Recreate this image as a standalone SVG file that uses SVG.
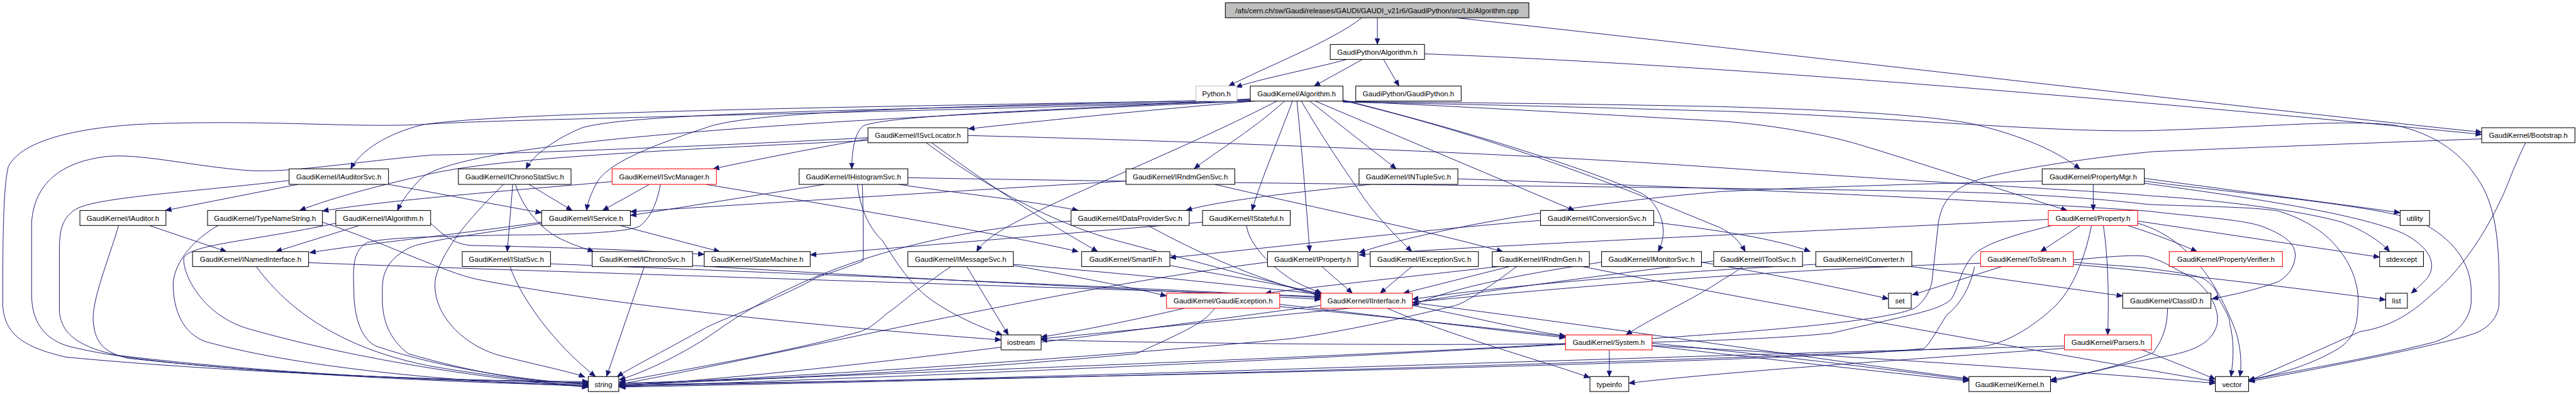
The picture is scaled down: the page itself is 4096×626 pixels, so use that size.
<svg xmlns="http://www.w3.org/2000/svg" width="4096" height="626" viewBox="0 0 4096 626">
<defs>
<style>
.e{fill:none;stroke:#191970;stroke-width:1.1;marker-end:url(#ah)}
.n rect{fill:#fff;stroke:#000;stroke-width:1.2}
.n.r rect{stroke:#ff0000}
.n.g rect{stroke:#bfbfbf}
.n.f rect{fill:#bfbfbf}
.n text{font-family:"Liberation Sans",Arial,Helvetica,sans-serif;font-size:13px;text-anchor:middle;fill:#000}
</style>
<marker id="ah" markerWidth="12" markerHeight="10" refX="11" refY="5" orient="auto" markerUnits="userSpaceOnUse"><path d="M0,0 L12,5 L0,10 z" fill="#191970"/></marker>
</defs>
<rect width="4096" height="626" fill="#fff"/>
<g transform="scale(0.8824)">
<g id="edges">
<path class="e" d="M2454,32 C2400,75 2270,125 2214,155"/>
<path class="e" d="M2482,32 L2482,80"/>
<path class="e" d="M2623,32 C3200,95 4100,200 4472,238"/>
<path class="e" d="M2427,107 C2360,125 2270,142 2227,157"/>
<path class="e" d="M2455,107 L2368,155"/>
<path class="e" d="M2493,107 L2521,155"/>
<path class="e" d="M2567,97 C3200,120 4100,205 4472,242"/>
<path class="e" d="M2262,182 C2050,200 1900,215 1745,232"/>
<path class="e" d="M2253,180 C1700,190 900,200 760,225 C700,240 650,270 632,304"/>
<path class="e" d="M2253,182 C1500,205 900,215 780,223 C650,232 500,215 269,223 C150,228 40,250 15,300 C5,340 5,450 5,550 C8,600 40,625 119,643 C400,670 800,685 1060,689"/>
<path class="e" d="M2253,182 C1500,215 850,250 760,320 C740,340 725,360 716,379"/>
<path class="e" d="M2253,181 C1700,196 1150,200 1049,230 C1000,250 960,280 948,304"/>
<path class="e" d="M2253,179 C1700,192 1350,200 1272,230 C1150,270 1090,300 1075,330 C1064,350 1059,365 1057,379"/>
<path class="e" d="M2253,178 C2000,195 1600,205 1555,227 C1540,240 1535,270 1535,304"/>
<path class="e" d="M2301,182 C2150,260 1950,340 1850,390 C1800,415 1770,435 1760,453"/>
<path class="e" d="M2315,182 C2250,240 2180,280 2152,304"/>
<path class="e" d="M2329,182 C2300,260 2270,330 2256,379"/>
<path class="e" d="M2337,182 C2345,260 2355,380 2360,453"/>
<path class="e" d="M2345,182 C2390,260 2440,330 2460,360 C2490,400 2520,430 2544,453"/>
<path class="e" d="M2360,182 L2516,304"/>
<path class="e" d="M2370,182 L2837,379"/>
<path class="e" d="M2420,180 C2700,250 2900,320 2962,350 C2990,370 2998,400 2997,420 C2996,435 2992,445 2988,453"/>
<path class="e" d="M2420,181 C2750,260 3000,370 3100,410 C3120,420 3135,435 3145,453"/>
<path class="e" d="M2420,183 C2800,186 3000,190 3100,192 C3300,198 3450,205 3550,222 C3650,245 3710,275 3748,304"/>
<path class="e" d="M2420,184 C2800,190 3000,198 3100,200 C3400,210 3700,240 3880,235 C4100,228 4215,215 4313,225 C4390,240 4440,280 4470,330 C4500,380 4505,450 4503,550 C4500,575 4480,595 4451,603 C4400,620 4200,660 4052,687"/>
<path class="e" d="M2420,182 C2700,195 2950,210 3100,218 C3200,225 3300,245 3349,260 C3450,290 3600,340 3725,379"/>
<path class="e" d="M4472,250 C4200,260 3950,270 3880,273 C3750,285 3600,310 3560,325 C3520,340 3500,360 3493,400 L3481,510 C3475,530 3465,545 3450,555 C3300,620 1800,660 1116,694"/>
<path class="e" d="M4551,257 C4530,300 4520,330 4511,350 C4470,440 4420,500 4382,530 C4340,570 4300,590 4253,597 C4180,630 4100,665 4052,686"/>
<path class="e" d="M1564,248 C1300,262 900,278 780,279 C650,290 520,312 448,307 C350,300 250,275 190,282 C110,292 62,330 57,400 L57,530 C57,580 80,610 122,623 C300,670 800,686 1060,687"/>
<path class="e" d="M1564,250 C1450,270 1350,290 1285,304"/>
<path class="e" d="M1564,253 C1200,270 900,285 780,312 C700,330 600,355 540,379"/>
<path class="e" d="M1679,257 C1750,310 1850,380 1978,453"/>
<path class="e" d="M1669,257 C1780,340 1900,400 2000,430 C2150,470 2300,510 2380,531"/>
<path class="e" d="M1744,244 C2200,255 2800,280 3100,302 C3500,330 3800,345 3880,353 C4000,360 4150,380 4220,400 C4260,415 4290,435 4306,453"/>
<path class="e" d="M3772,332 L3772,379"/>
<path class="e" d="M3864,321 C4000,340 4200,365 4325,383"/>
<path class="e" d="M3864,326 C4000,345 4300,370 4362,400 C4420,430 4450,470 4453,520 L4453,545 C4450,580 4420,610 4370,620 C4250,650 4120,670 4052,685"/>
<path class="e" d="M3864,330 C4050,355 4250,385 4330,420 C4380,445 4395,480 4370,505 C4360,515 4352,522 4345,528"/>
<path class="e" d="M3680,326 C3400,332 3200,340 3100,345 C2800,370 2550,420 2449,455"/>
<path class="e" d="M3750,405 L3677,453"/>
<path class="e" d="M3790,405 C3800,470 3800,550 3798,603"/>
<path class="e" d="M3830,405 C3880,420 3930,440 3959,453"/>
<path class="e" d="M3852,398 C4000,420 4200,450 4288,463"/>
<path class="e" d="M3691,395 C3300,415 2700,440 2449,459"/>
<path class="e" d="M3769,405 C3760,450 3740,520 3697,557 C3660,590 3620,615 3578,623 C3400,640 2000,680 1116,697"/>
<path class="e" d="M3702,405 C3620,425 3575,440 3555,460 C3530,490 3530,520 3515,540 C3490,560 3450,565 3300,600 C3000,630 2200,620 1876,612"/>
<path class="e" d="M3852,402 C3950,430 4000,520 4030,600 C4038,630 4040,655 4036,678"/>
<path class="e" d="M1636,320 C2300,332 3100,337 3500,345 C3700,350 3800,360 3870,368 C3960,372 4060,372 4106,380 C4170,400 4200,430 4215,450 C4240,480 4252,520 4249,550 C4248,590 4240,610 4215,627 C4160,660 4100,675 4052,684"/>
<path class="e" d="M2627,322 C3000,335 3500,355 3870,380 C3950,390 4050,395 4082,410 C4120,425 4136,440 4136,460 C4135,480 4125,495 4106,507 C4070,520 4030,530 3986,538"/>
<path class="e" d="M3607,480 L3446,531"/>
<path class="e" d="M3736,476 C3900,490 4150,520 4299,540"/>
<path class="e" d="M3736,472 C3800,478 3850,480 3870,483 C3920,490 3960,495 3973,503 C3990,515 3995,525 3998,537 C4010,560 4018,570 4018,583 C4025,610 4026,640 4020,678"/>
<path class="e" d="M3736,468 C3800,462 3850,458 3870,462 C3900,470 3920,485 3950,500 C3985,525 4000,560 3995,585 C3985,620 3950,635 3880,645 C3800,662 3750,675 3695,687"/>
<path class="e" d="M3558,480 C3550,520 3530,550 3508,567 C3490,595 3480,615 3468,627 C3300,650 2000,680 1116,693"/>
<path class="e" d="M3569,474 C3000,490 2400,560 1876,610"/>
<path class="e" d="M3857,629 C3900,645 3950,665 3992,683"/>
<path class="e" d="M3720,623 C3000,640 2000,680 1116,695"/>
<path class="e" d="M3720,627 C3400,650 3100,670 2935,690"/>
<path class="e" d="M3906,555 C3905,600 3890,620 3880,635 C3820,660 3750,675 3695,684"/>
<path class="e" d="M3445,480 L3825,533"/>
<path class="e" d="M3272,476 C3000,490 2700,515 2545,539"/>
<path class="e" d="M2980,400 C3100,415 3200,430 3262,453"/>
<path class="e" d="M2776,397 C2600,410 2300,445 2108,464"/>
<path class="e" d="M3088,470 C2900,495 2700,520 2545,545"/>
<path class="e" d="M3140,480 C3120,495 3110,500 3105,503 C3050,540 2980,570 2930,603"/>
<path class="e" d="M2886,472 C2700,500 2600,525 2545,550"/>
<path class="e" d="M3066,472 C3200,495 3300,515 3403,538"/>
<path class="e" d="M2720,480 L2529,528"/>
<path class="e" d="M2700,480 C2550,497 2400,513 2280,528"/>
<path class="e" d="M2852,480 C3100,530 3600,620 3992,687"/>
<path class="e" d="M2733,480 C2680,520 2640,545 2623,550 C2500,580 2400,600 2325,610 C1900,650 1400,680 1116,692"/>
<path class="e" d="M2544,480 L2487,528"/>
<path class="e" d="M2246,405 C2250,440 2290,480 2330,505 C2350,515 2365,522 2382,528"/>
<path class="e" d="M2167,400 L1460,459"/>
<path class="e" d="M2067,405 C2130,440 2250,500 2380,533"/>
<path class="e" d="M1930,398 C1600,420 1400,520 1300,590 C1230,640 1160,670 1116,684"/>
<path class="e" d="M1620,332 C1700,345 1850,360 1943,379"/>
<path class="e" d="M2470,332 C2350,345 2200,360 2137,379"/>
<path class="e" d="M1486,332 L1136,388"/>
<path class="e" d="M1554,332 C1556,400 1556,450 1555,470 C1530,480 1500,490 1471,500 C1400,540 1300,575 1272,590 C1200,630 1150,655 1112,678"/>
<path class="e" d="M1545,332 C1550,380 1570,415 1590,433 C1620,480 1640,510 1674,537 C1720,570 1770,590 1806,603"/>
<path class="e" d="M2189,332 C2350,370 2550,410 2708,453"/>
<path class="e" d="M2029,326 C1700,345 1400,365 1136,381"/>
<path class="e" d="M1742,480 L1817,603"/>
<path class="e" d="M1714,480 C1690,495 1680,505 1674,507 C1640,530 1620,550 1600,563 C1580,580 1570,590 1550,597 C1400,640 1200,670 1116,688"/>
<path class="e" d="M1826,476 C2000,490 2200,510 2380,530"/>
<path class="e" d="M1826,478 C1950,500 2050,520 2102,533"/>
<path class="e" d="M2108,478 C2200,495 2300,510 2380,529"/>
<path class="e" d="M919,480 C940,540 1000,620 1073,678"/>
<path class="e" d="M992,475 C1500,495 2000,515 2380,536"/>
<path class="e" d="M1161,480 L1093,678"/>
<path class="e" d="M1248,478 C1600,500 2000,518 2380,539"/>
<path class="e" d="M953,332 L1031,379"/>
<path class="e" d="M924,332 L914,453"/>
<path class="e" d="M929,332 C940,370 970,410 1010,430 C1035,442 1055,448 1070,453"/>
<path class="e" d="M907,332 C860,380 800,440 785,500 C775,560 830,620 900,640 C980,660 1030,670 1054,679"/>
<path class="e" d="M1170,332 L1086,379"/>
<path class="e" d="M1103,327 C900,345 700,360 581,380"/>
<path class="e" d="M1272,332 C1500,370 1800,420 1943,453"/>
<path class="e" d="M1190,332 C1185,360 1175,390 1153,407 C1130,420 1000,423 924,423 C850,425 700,425 661,437 C640,450 637,470 637,500 L638,537 C640,570 650,610 677,623 C800,665 950,685 1060,692"/>
<path class="e" d="M976,400 C800,425 650,440 558,455"/>
<path class="e" d="M1113,405 L1297,453"/>
<path class="e" d="M976,402 C880,420 780,430 740,445 C700,465 689,490 689,520 L689,543 C690,575 700,610 736,637 C850,670 960,690 1060,690"/>
<path class="e" d="M651,405 L497,453"/>
<path class="e" d="M605,402 C450,435 340,440 331,465 C330,500 370,570 448,592 C650,650 900,685 1060,697"/>
<path class="e" d="M776,402 C800,425 820,440 850,442 C1000,445 1150,450 1269,458"/>
<path class="e" d="M537,332 L298,379"/>
<path class="e" d="M700,332 C800,350 900,370 976,383"/>
<path class="e" d="M521,325 C350,345 180,355 140,375 C110,390 107,420 107,450 L107,560 C110,600 140,625 214,640 C500,675 850,688 1060,692"/>
<path class="e" d="M266,405 L408,453"/>
<path class="e" d="M214,405 C195,470 165,540 168,580 C172,620 190,635 230,645 C500,675 850,690 1060,694"/>
<path class="e" d="M395,405 C350,430 315,470 312,510 C312,560 330,600 370,615 C550,665 850,690 1060,695"/>
<path class="e" d="M581,400 C700,440 800,490 860,503 C1100,550 1500,590 1804,612"/>
<path class="e" d="M556,473 C1000,490 2000,520 2380,534"/>
<path class="e" d="M462,480 C520,560 620,630 780,660 C900,680 1000,690 1060,697"/>
<path class="e" d="M2306,548 C2500,570 2700,595 2821,608"/>
<path class="e" d="M2134,555 C2050,575 1950,595 1876,607"/>
<path class="e" d="M2189,555 C2170,580 2150,590 2047,637 C1800,660 1500,680 1116,690"/>
<path class="e" d="M2306,552 C2800,600 3200,650 3548,686"/>
<path class="e" d="M2545,550 C2650,570 2750,595 2821,605"/>
<path class="e" d="M2500,555 C2600,600 2780,650 2865,680"/>
<path class="e" d="M2545,545 C2900,590 3300,650 3548,682"/>
<path class="e" d="M2380,550 C2000,600 1500,670 1116,695"/>
<path class="e" d="M2900,630 L2900,678"/>
<path class="e" d="M2977,618 C3200,640 3400,665 3548,684"/>
<path class="e" d="M2821,620 C2300,650 1600,680 1116,696"/>
<path class="e" d="M2977,622 C3300,640 3700,665 3992,690"/>
<path class="e" d="M2382,480 L2437,528"/>
<path class="e" d="M2284,472 C1900,520 1400,640 1116,692"/>
</g>
<g id="n_file" class="n f"><rect x="2208" y="5" width="547" height="27"/><text x="2481.5" y="23.5">/afs/cern.ch/sw/Gaudi/releases/GAUDI/GAUDI_v21r6/GaudiPython/src/Lib/Algorithm.cpp</text></g>
<g id="n_gpa" class="n"><rect x="2397" y="80" width="170" height="27"/><text x="2482" y="98.5">GaudiPython/Algorithm.h</text></g>
<g id="n_python" class="n g"><rect x="2155" y="155" width="74" height="27"/><text x="2192" y="173.5">Python.h</text></g>
<g id="n_alg" class="n"><rect x="2253" y="155" width="167" height="27"/><text x="2336.5" y="173.5">GaudiKernel/Algorithm.h</text></g>
<g id="n_gpy" class="n"><rect x="2443" y="155" width="190" height="27"/><text x="2538" y="173.5">GaudiPython/GaudiPython.h</text></g>
<g id="n_isvcloc" class="n"><rect x="1564" y="230" width="180" height="27"/><text x="1654" y="248.5">GaudiKernel/ISvcLocator.h</text></g>
<g id="n_boot" class="n"><rect x="4472" y="230" width="168" height="27"/><text x="4556" y="248.5">GaudiKernel/Bootstrap.h</text></g>
<g id="n_iaudsvc" class="n"><rect x="521" y="304" width="179" height="28"/><text x="610.5" y="322.5">GaudiKernel/IAuditorSvc.h</text></g>
<g id="n_icss" class="n"><rect x="826" y="304" width="203" height="28"/><text x="927.5" y="322.5">GaudiKernel/IChronoStatSvc.h</text></g>
<g id="n_isvcmgr" class="n r"><rect x="1103" y="304" width="188" height="28"/><text x="1197" y="322.5">GaudiKernel/ISvcManager.h</text></g>
<g id="n_ihist" class="n"><rect x="1440" y="304" width="196" height="28"/><text x="1538" y="322.5">GaudiKernel/IHistogramSvc.h</text></g>
<g id="n_irgs" class="n"><rect x="2029" y="304" width="196" height="28"/><text x="2127" y="322.5">GaudiKernel/IRndmGenSvc.h</text></g>
<g id="n_ints" class="n"><rect x="2449" y="304" width="178" height="28"/><text x="2538" y="322.5">GaudiKernel/INTupleSvc.h</text></g>
<g id="n_pmgr" class="n"><rect x="3680" y="304" width="184" height="28"/><text x="3772" y="322.5">GaudiKernel/PropertyMgr.h</text></g>
<g id="n_iaud" class="n"><rect x="144" y="379" width="155" height="27"/><text x="221.5" y="397.5">GaudiKernel/IAuditor.h</text></g>
<g id="n_tns" class="n"><rect x="374" y="379" width="207" height="27"/><text x="477.5" y="397.5">GaudiKernel/TypeNameString.h</text></g>
<g id="n_ialg" class="n"><rect x="605" y="379" width="171" height="27"/><text x="690.5" y="397.5">GaudiKernel/IAlgorithm.h</text></g>
<g id="n_isvc" class="n"><rect x="976" y="379" width="160" height="27"/><text x="1056" y="397.5">GaudiKernel/IService.h</text></g>
<g id="n_idps" class="n"><rect x="1930" y="379" width="213" height="27"/><text x="2036.5" y="397.5">GaudiKernel/IDataProviderSvc.h</text></g>
<g id="n_istf" class="n"><rect x="2167" y="379" width="158" height="27"/><text x="2246" y="397.5">GaudiKernel/IStateful.h</text></g>
<g id="n_icnvs" class="n"><rect x="2776" y="379" width="204" height="27"/><text x="2878" y="397.5">GaudiKernel/IConversionSvc.h</text></g>
<g id="n_prop" class="n r"><rect x="3691" y="379" width="161" height="27"/><text x="3771.5" y="397.5">GaudiKernel/Property.h</text></g>
<g id="n_util" class="n"><rect x="4325" y="379" width="53" height="27"/><text x="4351.5" y="397.5">utility</text></g>
<g id="n_ini" class="n"><rect x="347" y="453" width="209" height="27"/><text x="451.5" y="471.5">GaudiKernel/INamedInterface.h</text></g>
<g id="n_istat" class="n"><rect x="833" y="453" width="159" height="27"/><text x="912.5" y="471.5">GaudiKernel/IStatSvc.h</text></g>
<g id="n_ichr" class="n"><rect x="1067" y="453" width="181" height="27"/><text x="1157.5" y="471.5">GaudiKernel/IChronoSvc.h</text></g>
<g id="n_sm" class="n"><rect x="1269" y="453" width="191" height="27"/><text x="1364.5" y="471.5">GaudiKernel/StateMachine.h</text></g>
<g id="n_imsg" class="n"><rect x="1636" y="453" width="190" height="27"/><text x="1731" y="471.5">GaudiKernel/IMessageSvc.h</text></g>
<g id="n_sif" class="n"><rect x="1949" y="453" width="159" height="27"/><text x="2028.5" y="471.5">GaudiKernel/SmartIF.h</text></g>
<g id="n_iprop" class="n"><rect x="2284" y="453" width="163" height="27"/><text x="2365.5" y="471.5">GaudiKernel/IProperty.h</text></g>
<g id="n_iexc" class="n"><rect x="2469" y="453" width="195" height="27"/><text x="2566.5" y="471.5">GaudiKernel/IExceptionSvc.h</text></g>
<g id="n_irg" class="n"><rect x="2689" y="453" width="175" height="27"/><text x="2776.5" y="471.5">GaudiKernel/IRndmGen.h</text></g>
<g id="n_imon" class="n"><rect x="2886" y="453" width="180" height="27"/><text x="2976" y="471.5">GaudiKernel/IMonitorSvc.h</text></g>
<g id="n_itool" class="n"><rect x="3088" y="453" width="160" height="27"/><text x="3168" y="471.5">GaudiKernel/IToolSvc.h</text></g>
<g id="n_icnv" class="n"><rect x="3272" y="453" width="173" height="27"/><text x="3358.5" y="471.5">GaudiKernel/IConverter.h</text></g>
<g id="n_tos" class="n r"><rect x="3569" y="453" width="167" height="27"/><text x="3652.5" y="471.5">GaudiKernel/ToStream.h</text></g>
<g id="n_pver" class="n r"><rect x="3909" y="453" width="204" height="27"/><text x="4011" y="471.5">GaudiKernel/PropertyVerifier.h</text></g>
<g id="n_stdex" class="n"><rect x="4288" y="453" width="79" height="27"/><text x="4327.5" y="471.5">stdexcept</text></g>
<g id="n_gexc" class="n r"><rect x="2102" y="528" width="204" height="27"/><text x="2204" y="546.5">GaudiKernel/GaudiException.h</text></g>
<g id="n_iintf" class="n r"><rect x="2380" y="528" width="165" height="27"/><text x="2462.5" y="546.5">GaudiKernel/IInterface.h</text></g>
<g id="n_set" class="n"><rect x="3403" y="528" width="41" height="27"/><text x="3423.5" y="546.5">set</text></g>
<g id="n_cid" class="n"><rect x="3825" y="528" width="159" height="27"/><text x="3904.5" y="546.5">GaudiKernel/ClassID.h</text></g>
<g id="n_list" class="n"><rect x="4299" y="528" width="39" height="27"/><text x="4318.5" y="546.5">list</text></g>
<g id="n_iostream" class="n"><rect x="1804" y="603" width="72" height="27"/><text x="1840" y="621.5">iostream</text></g>
<g id="n_sys" class="n r"><rect x="2821" y="603" width="156" height="27"/><text x="2899" y="621.5">GaudiKernel/System.h</text></g>
<g id="n_pars" class="n r"><rect x="3720" y="603" width="157" height="27"/><text x="3798.5" y="621.5">GaudiKernel/Parsers.h</text></g>
<g id="n_string" class="n"><rect x="1060" y="678" width="55" height="27"/><text x="1087.5" y="696.5">string</text></g>
<g id="n_tinfo" class="n"><rect x="2865" y="678" width="70" height="27"/><text x="2900" y="696.5">typeinfo</text></g>
<g id="n_kern" class="n"><rect x="3548" y="678" width="147" height="27"/><text x="3621.5" y="696.5">GaudiKernel/Kernel.h</text></g>
<g id="n_vector" class="n"><rect x="3992" y="678" width="60" height="27"/><text x="4022" y="696.5">vector</text></g>
</g>
</svg>
